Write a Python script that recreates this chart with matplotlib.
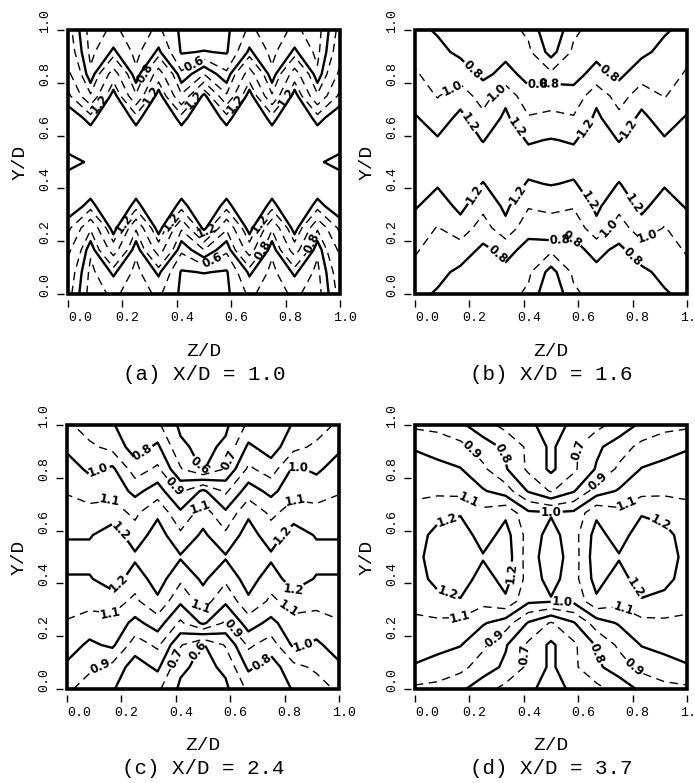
import numpy as np
import matplotlib
matplotlib.use("Agg")
import matplotlib.pyplot as plt
from matplotlib.patches import Rectangle
from matplotlib.transforms import ScaledTranslation

MONO = "Liberation Mono"
plt.rcParams.update({"lines.dashed_pattern": [6, 4], "font.family": MONO})

# measurement grid (same in Z/D and Y/D)
grid_pos = [0.0, 0.083, 0.167, 0.25, 0.333, 0.417, 0.5, 0.583, 0.667, 0.75, 0.833, 0.917, 1.0]

# rows: Y/D = 0 ... 1, columns: Z/D = 0 ... 1
vel_a = [
    [0.85, 0.55, 0.62, 0.55, 0.62, 0.48, 0.42, 0.48, 0.62, 0.55, 0.62, 0.55, 0.85],
    [0.90, 0.57, 0.72, 0.57, 0.72, 0.49, 0.505, 0.49, 0.72, 0.57, 0.72, 0.57, 0.90],
    [1.05, 0.62, 1.10, 0.62, 1.10, 0.62, 0.80, 0.62, 1.10, 0.62, 1.10, 0.62, 1.05],
    [1.25, 0.82, 1.38, 0.82, 1.38, 0.82, 1.35, 0.82, 1.38, 0.82, 1.38, 0.82, 1.25],
    [1.36, 1.27, 1.40, 1.27, 1.40, 1.27, 1.38, 1.27, 1.40, 1.27, 1.40, 1.27, 1.36],
    [1.38, 1.36, 1.40, 1.36, 1.40, 1.36, 1.40, 1.36, 1.40, 1.36, 1.40, 1.36, 1.38],
    [1.25, 1.32, 1.40, 1.38, 1.40, 1.38, 1.40, 1.38, 1.40, 1.38, 1.40, 1.32, 1.25],
    [1.38, 1.36, 1.40, 1.36, 1.40, 1.36, 1.40, 1.36, 1.40, 1.36, 1.40, 1.36, 1.38],
    [1.36, 1.27, 1.40, 1.27, 1.40, 1.27, 1.38, 1.27, 1.40, 1.27, 1.40, 1.27, 1.36],
    [1.25, 0.82, 1.38, 0.82, 1.38, 0.82, 1.35, 0.82, 1.38, 0.82, 1.38, 0.82, 1.25],
    [1.05, 0.62, 1.10, 0.62, 1.10, 0.62, 0.80, 0.62, 1.10, 0.62, 1.10, 0.62, 1.05],
    [0.90, 0.57, 0.72, 0.57, 0.72, 0.49, 0.505, 0.49, 0.72, 0.57, 0.72, 0.57, 0.90],
    [0.85, 0.55, 0.62, 0.55, 0.62, 0.48, 0.42, 0.48, 0.62, 0.55, 0.62, 0.55, 0.85],
]
vel_b = [
    [0.85, 0.78, 0.72, 0.72, 0.74, 0.68, 0.50, 0.68, 0.74, 0.72, 0.72, 0.78, 0.85],
    [0.95, 0.85, 0.76, 0.74, 0.76, 0.72, 0.56, 0.72, 0.76, 0.74, 0.76, 0.85, 0.95],
    [1.02, 0.92, 0.90, 0.76, 0.85, 0.75, 0.72, 0.75, 0.85, 0.76, 0.90, 0.92, 1.02],
    [1.10, 0.99, 1.12, 0.90, 1.15, 0.85, 0.90, 0.85, 1.15, 0.90, 1.12, 0.99, 1.10],
    [1.22, 1.10, 1.25, 1.06, 1.24, 1.02, 1.05, 1.02, 1.24, 1.06, 1.25, 1.10, 1.22],
    [1.30, 1.22, 1.32, 1.19, 1.32, 1.18, 1.21, 1.18, 1.32, 1.19, 1.32, 1.22, 1.30],
    [1.32, 1.30, 1.35, 1.30, 1.35, 1.28, 1.28, 1.28, 1.35, 1.30, 1.35, 1.30, 1.32],
    [1.30, 1.22, 1.32, 1.19, 1.32, 1.18, 1.21, 1.18, 1.32, 1.19, 1.32, 1.22, 1.30],
    [1.22, 1.10, 1.25, 1.06, 1.24, 1.02, 1.05, 1.02, 1.24, 1.06, 1.25, 1.10, 1.22],
    [1.10, 0.99, 1.12, 0.90, 1.15, 0.85, 0.90, 0.85, 1.15, 0.90, 1.12, 0.99, 1.10],
    [1.02, 0.92, 0.90, 0.76, 0.85, 0.75, 0.72, 0.75, 0.85, 0.76, 0.90, 0.92, 1.02],
    [0.95, 0.85, 0.76, 0.74, 0.76, 0.72, 0.56, 0.72, 0.76, 0.74, 0.76, 0.85, 0.95],
    [0.85, 0.78, 0.72, 0.72, 0.74, 0.68, 0.50, 0.68, 0.74, 0.72, 0.72, 0.78, 0.85],
]
vel_c = [
    [0.92, 0.85, 0.81, 0.72, 0.72, 0.58, 0.55, 0.58, 0.72, 0.72, 0.81, 0.85, 0.92],
    [0.98, 0.92, 0.87, 0.75, 0.82, 0.62, 0.57, 0.62, 0.82, 0.75, 0.87, 0.92, 0.98],
    [1.05, 0.98, 1.02, 0.85, 0.92, 0.71, 0.59, 0.71, 0.92, 0.85, 1.02, 0.98, 1.05],
    [1.09, 1.06, 1.07, 0.97, 1.05, 0.88, 1.02, 0.88, 1.05, 0.97, 1.07, 1.06, 1.09],
    [1.15, 1.13, 1.14, 1.08, 1.18, 1.02, 1.15, 1.02, 1.18, 1.08, 1.14, 1.13, 1.15],
    [1.19, 1.19, 1.26, 1.14, 1.25, 1.12, 1.22, 1.12, 1.25, 1.14, 1.26, 1.19, 1.19],
    [1.24, 1.24, 1.30, 1.22, 1.28, 1.21, 1.25, 1.21, 1.28, 1.22, 1.30, 1.24, 1.24],
    [1.19, 1.19, 1.26, 1.14, 1.25, 1.12, 1.22, 1.12, 1.25, 1.14, 1.26, 1.19, 1.19],
    [1.15, 1.13, 1.14, 1.08, 1.18, 1.02, 1.15, 1.02, 1.18, 1.08, 1.14, 1.13, 1.15],
    [1.09, 1.06, 1.07, 0.97, 1.05, 0.88, 1.02, 0.88, 1.05, 0.97, 1.07, 1.06, 1.09],
    [1.05, 0.98, 1.02, 0.85, 0.92, 0.71, 0.59, 0.71, 0.92, 0.85, 1.02, 0.98, 1.05],
    [0.98, 0.92, 0.87, 0.75, 0.82, 0.62, 0.57, 0.62, 0.82, 0.75, 0.87, 0.92, 0.98],
    [0.92, 0.85, 0.81, 0.72, 0.72, 0.58, 0.55, 0.58, 0.72, 0.72, 0.81, 0.85, 0.92],
]
vel_d = [
    [0.88, 0.87, 0.82, 0.74, 0.67, 0.65, 0.50, 0.65, 0.67, 0.74, 0.82, 0.87, 0.88],
    [0.99, 0.96, 0.93, 0.85, 0.78, 0.68, 0.58, 0.68, 0.78, 0.85, 0.93, 0.96, 0.99],
    [1.05, 1.03, 1.005, 0.92, 0.81, 0.68, 0.58, 0.68, 0.81, 0.92, 1.005, 1.03, 1.05],
    [1.08, 1.08, 1.07, 1.01, 0.95, 0.79, 0.69, 0.79, 0.95, 1.01, 1.07, 1.08, 1.08],
    [1.13, 1.17, 1.19, 1.13, 1.18, 1.02, 1.01, 1.02, 1.18, 1.13, 1.19, 1.17, 1.13],
    [1.16, 1.23, 1.26, 1.15, 1.24, 1.06, 0.96, 1.06, 1.24, 1.15, 1.26, 1.23, 1.16],
    [1.17, 1.25, 1.27, 1.21, 1.26, 1.05, 0.94, 1.05, 1.26, 1.21, 1.27, 1.25, 1.17],
    [1.16, 1.23, 1.26, 1.15, 1.24, 1.06, 0.96, 1.06, 1.24, 1.15, 1.26, 1.23, 1.16],
    [1.13, 1.17, 1.19, 1.13, 1.18, 1.02, 1.01, 1.02, 1.18, 1.13, 1.19, 1.17, 1.13],
    [1.08, 1.08, 1.07, 1.01, 0.95, 0.79, 0.69, 0.79, 0.95, 1.01, 1.07, 1.08, 1.08],
    [1.05, 1.03, 1.005, 0.92, 0.81, 0.68, 0.58, 0.68, 0.81, 0.92, 1.005, 1.03, 1.05],
    [0.99, 0.96, 0.93, 0.85, 0.78, 0.68, 0.58, 0.68, 0.78, 0.85, 0.93, 0.96, 0.99],
    [0.88, 0.87, 0.82, 0.74, 0.67, 0.65, 0.50, 0.65, 0.67, 0.74, 0.82, 0.87, 0.88],
]

solid_a, dashed_a = [0.5, 0.7, 1.3], [0.6, 0.8, 1.0, 1.2]
solid_b, dashed_b = [0.6, 0.8, 1.2], [0.7, 1.0]
solid_cd, dashed_cd = [0.6, 0.8, 1.0, 1.2], [0.7, 0.9, 1.1]

captions = ["(a) X/D = 1.0", "(b) X/D = 1.6", "(c) X/D = 2.4", "(d) X/D = 3.7"]
ticks = [0.0, 0.2, 0.4, 0.6, 0.8, 1.0]
tick_labels = ["0.0", "0.2", "0.4", "0.6", "0.8", "1.0"]

# where the contour labels sit (text as printed, Z/D, Y/D)
spots_a = [("0.8", 0.28, 0.84), ("0.6", 0.47, 0.86), ("1.2", 0.13, 0.71), ("1.2", 0.31, 0.75),
           ("1.2", 0.47, 0.73), ("1.2", 0.63, 0.71), ("1.2", 0.82, 0.73), ("1.2", 0.19, 0.28),
           ("1.2", 0.37, 0.28), ("1.2", 0.51, 0.24), ("1.2", 0.69, 0.28), ("0.6", 0.53, 0.13),
           ("0.8", 0.71, 0.17), ("1.0", 0.90, 0.19)]
spots_b = [("0.8", 0.25, 0.89), ("1.0", 0.12, 0.81), ("1.0", 0.29, 0.78), ("0.8", 0.45, 0.82),
           ("0.8", 0.70, 0.82), ("1.2", 0.48, 0.70), ("1.2", 0.17, 0.63), ("1.2", 0.36, 0.62),
           ("1.2", 0.60, 0.65), ("1.2", 0.77, 0.64), ("1.2", 0.245, 0.36), ("1.2", 0.40, 0.36),
           ("1.2", 0.53, 0.285), ("1.2", 0.65, 0.36), ("1.2", 0.83, 0.36), ("1.0", 0.73, 0.23),
           ("1.0", 0.875, 0.18), ("0.8", 0.32, 0.17), ("0.8", 0.56, 0.17), ("0.8", 0.77, 0.11)]
spots_c = [("0.8", 0.285, 0.887), ("0.6", 0.48, 0.84), ("0.7", 0.61, 0.86), ("0.8", 0.865, 0.894),
           ("1.0", 0.13, 0.80), ("0.9", 0.41, 0.78), ("1.1", 0.16, 0.70), ("1.1", 0.49, 0.69),
           ("1.1", 0.84, 0.71), ("1.2", 0.19, 0.59), ("1.2", 0.77, 0.61), ("1.2", 0.22, 0.37),
           ("1.2", 0.83, 0.37), ("1.1", 0.16, 0.29), ("1.1", 0.49, 0.31), ("1.1", 0.81, 0.30),
           ("0.9", 0.60, 0.22), ("1.0", 0.86, 0.20), ("0.6", 0.49, 0.14), ("0.8", 0.71, 0.11),
           ("0.7", 0.37, 0.13), ("0.9", 0.13, 0.06)]
spots_d = [("0.9", 0.19, 0.887), ("0.8", 0.34, 0.90), ("0.7", 0.59, 0.905), ("0.9", 0.67, 0.79),
           ("1.1", 0.20, 0.72), ("1.1", 0.78, 0.70), ("1.0", 0.50, 0.69), ("1.2", 0.135, 0.59),
           ("1.2", 0.89, 0.59), ("1.2", 0.34, 0.44), ("1.2", 0.135, 0.41), ("1.2", 0.85, 0.41),
           ("1.0", 0.54, 0.31), ("1.1", 0.17, 0.26), ("1.1", 0.76, 0.29), ("0.9", 0.28, 0.21),
           ("0.7", 0.41, 0.13), ("0.8", 0.66, 0.13), ("0.9", 0.81, 0.09)]

panels = [
    (vel_a, solid_a, dashed_a, spots_a, captions[0], 68, 30),
    (vel_b, solid_b, dashed_b, spots_b, captions[1], 415, 30),
    (vel_c, solid_cd, dashed_cd, spots_c, captions[2], 67, 425),
    (vel_d, solid_cd, dashed_cd, spots_d, captions[3], 415, 425),
]

W, H = 695, 783
fig = plt.figure(figsize=(W / 100, H / 100), dpi=100)
BOX_W, BOX_H = 272, 264


def px(x, y):
    return x / W, 1 - y / H


for vals, solid, dashed, spots, cap, left, top in panels:
    x0, y1 = px(left, top)
    ax = fig.add_axes([x0, y1 - BOX_H / H, BOX_W / W, BOX_H / H])
    v = np.array(vals)
    cs_s = ax.contour(grid_pos, grid_pos, v, levels=solid, colors="k", linewidths=1.7)
    cs_d = ax.contour(grid_pos, grid_pos, v, levels=dashed, colors="k",
                      linewidths=1.0, linestyles="dashed")
    ax.set_xlim(0, 1); ax.set_ylim(0, 1)

    for cs, lev in ((cs_s, solid), (cs_d, dashed)):
        pts = [(z, y) for t, z, y in spots if float(t) in lev]
        if pts:
            ax.clabel(cs, inline=True, inline_spacing=1, fmt="%.1f", fontsize=8.5, manual=pts)
            for t in cs.labelTexts:
                t.set_fontweight("bold"); t.set_family("DejaVu Sans")

    ax.add_patch(Rectangle((0, 0), 1, 1, transform=ax.transAxes, fill=False,
                           lw=2.6, ec="k", clip_on=False, zorder=6))
    for s in ax.spines.values():
        s.set_visible(False)
    ax.spines["bottom"].set_position(("outward", 4))
    ax.spines["left"].set_position(("outward", 3))

    ax.set_xticks(ticks); ax.set_xticklabels(tick_labels, fontsize=9.5, fontfamily=MONO)
    ax.set_yticks(ticks)
    ax.set_yticklabels(tick_labels, fontsize=9.5, fontfamily=MONO, rotation=90, va="center")
    ax.tick_params(direction="out", length=5, width=1.0, pad=4)
    for i, lab in enumerate(ax.get_xticklabels()):
        dx = 12 if i == 0 else 5
        lab.set_transform(lab.get_transform() + ScaledTranslation(dx / 100, 0, fig.dpi_scale_trans))
    for lab in ax.get_yticklabels():
        lab.set_transform(lab.get_transform() + ScaledTranslation(0, 9 / 100, fig.dpi_scale_trans))

    cx = left + BOX_W / 2
    bottom = top + BOX_H
    fig.text(*px(left - 48, top + BOX_H / 2), "Y/D", rotation=90, ha="center", va="center",
             fontsize=14, fontfamily=MONO)
    fig.text(*px(cx, bottom + 57), "Z/D", ha="center", va="center", fontsize=14, fontfamily=MONO)
    fig.text(*px(cx, bottom + 80), cap, ha="center", va="center", fontsize=15, fontfamily=MONO)

fig.savefig("out.png", dpi=100)
